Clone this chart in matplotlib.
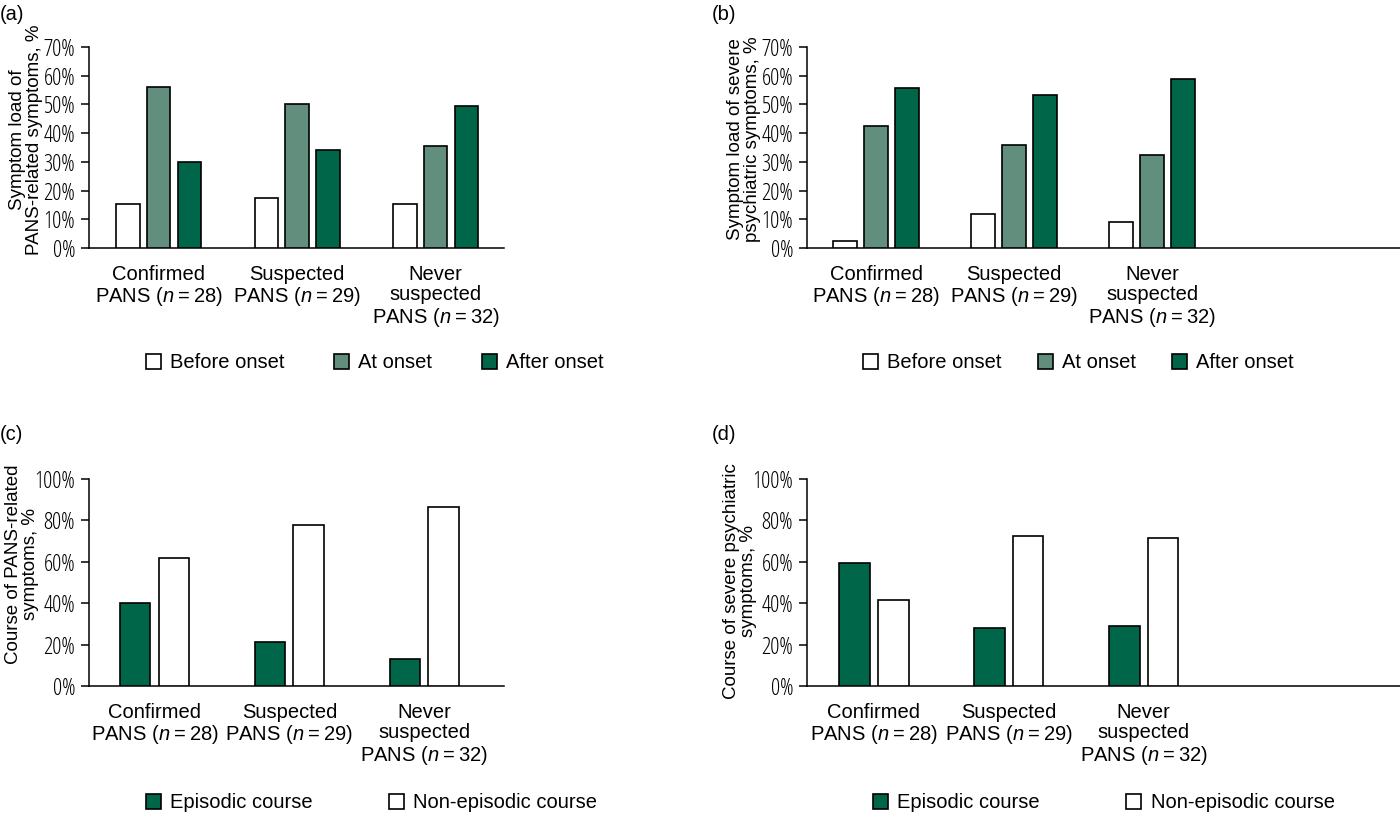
import matplotlib
matplotlib.use("Agg")
import matplotlib.pyplot as plt
from matplotlib.font_manager import FontProperties
import numpy as np

plt.rcParams['font.family'] = ['Liberation Sans', 'DejaVu Sans']
plt.rcParams['mathtext.fontset'] = 'custom'
plt.rcParams['mathtext.it'] = 'Liberation Sans:italic'
plt.rcParams['mathtext.rm'] = 'Liberation Sans'

groups = ["Confirmed\nPANS ($\\mathit{n}$\u2009=\u200928)",
          "Suspected\nPANS ($\\mathit{n}$\u2009=\u200929)",
          "Never\nsuspected\nPANS ($\\mathit{n}$\u2009=\u200932)"]

# symptom load (a, b), percent
load_series = ["Before onset", "At onset", "After onset"]
load_pans = [[15.2, 17.4, 15.2],
             [55.9, 50.1, 35.6],
             [30.1, 34.2, 49.6]]
load_severe = [[2.5, 11.7, 8.9],
               [42.4, 35.8, 32.3],
               [55.7, 53.2, 59.0]]

# course (c, d), percent
course_series = ["Episodic course", "Non-episodic course"]
course_pans = [[40.0, 21.4, 12.9],
               [61.7, 78.0, 86.7]]
course_severe = [[59.3, 28.0, 28.8],
                 [41.5, 72.7, 71.4]]

load_colors = ["white", "#628e7e", "#00664a"]
course_colors = ["#00664a", "white"]

W, H = 1400, 816
fig = plt.figure(figsize=(W / 100, H / 100), dpi=100)

fs = 14.5
tick_fp = FontProperties(family='Open Sans', stretch='condensed', weight='light', size=16.5)


def make_axes(left, right, top, bottom):
    return fig.add_axes([left / W, 1 - bottom / H, (right - left) / W, (bottom - top) / H])


def draw_panel(ax, series, colors, data, width, step, ymax, ystep, xlim,
               ylabel, label_y, label_px, leg_x, leg_y, colspace):
    x = np.arange(len(groups))
    n = len(series)
    for i in range(n):
        off = (i - (n - 1) / 2) * step
        ax.bar(x + off, data[i], width, color=colors[i], edgecolor='black',
               linewidth=1.2, label=series[i], zorder=3)
    ax.set_xlim(*xlim)
    ax.set_ylim(0, ymax)
    yt = np.arange(0, ymax + 0.1, ystep)
    ax.set_yticks(yt)
    ax.set_yticklabels([f"{int(v)}%" for v in yt], fontproperties=tick_fp)
    ax.set_xticks(x)
    ax.set_xticklabels(groups, fontsize=fs, linespacing=1.1, va='top')
    ax.tick_params(axis='x', length=0, pad=12)
    ax.tick_params(axis='y', length=6, width=1.1, pad=4)
    for s in ['top', 'right']:
        ax.spines[s].set_visible(False)
    for s in ['left', 'bottom']:
        ax.spines[s].set_linewidth(1.1)
    ax.set_ylabel(ylabel, fontsize=13.5, linespacing=1.0)
    ax.yaxis.set_label_coords(-label_px / (ax.get_position().width * W), label_y)
    ax.legend(loc='center left', bbox_to_anchor=(leg_x / W, 1 - leg_y / H),
              bbox_transform=fig.transFigure, ncol=n, frameon=False,
              fontsize=fs, handlelength=0.75, handleheight=0.75,
              handletextpad=0.45, columnspacing=colspace, borderpad=0,
              borderaxespad=0)


ax_a = make_axes(89, 504, 47, 248)
draw_panel(ax_a, load_series, load_colors, load_pans, 0.17, 0.222, 70, 10,
           (-0.502, 2.494), "Symptom load of\nPANS-related symptoms, %", 0.54, 46,
           146, 363, 2.45)

ax_b = make_axes(807, 1400, 47, 248)
draw_panel(ax_b, load_series, load_colors, load_severe, 0.168, 0.225, 70, 10,
           (-0.5, 3.797), "Symptom load of severe\npsychiatric symptoms, %", 0.54, 46,
           863, 363, 1.8)

ax_c = make_axes(89, 504, 479, 686)
draw_panel(ax_c, course_series, course_colors, course_pans, 0.227, 0.287, 100, 20,
           (-0.485, 2.59), "Course of PANS-related\nsymptoms, %", 0.59, 50,
           146, 803, 3.8)

ax_d = make_axes(807, 1400, 479, 686)
draw_panel(ax_d, course_series, course_colors, course_severe, 0.227, 0.287, 100, 20,
           (-0.496, 3.9), "Course of severe psychiatric\nsymptoms, %", 0.505, 50,
           873, 803, 4.3)

for lab, px, py in [("(a)", 0, 15), ("(b)", 712, 15), ("(c)", 0, 434), ("(d)", 712, 434)]:
    fig.text(px / W, 1 - py / H, lab, fontsize=fs, va='center', ha='left')

fig.savefig("out.png", dpi=100)
